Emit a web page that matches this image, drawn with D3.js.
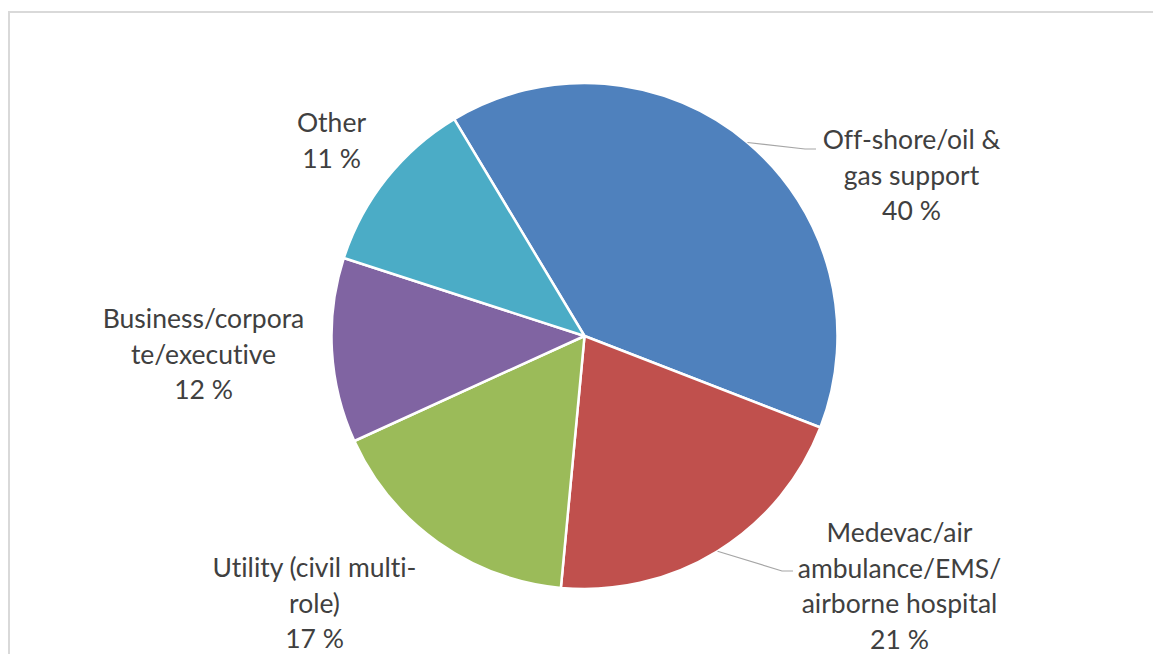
<!DOCTYPE html>
<html>
<head>
<meta charset="utf-8">
<script src="https://cdn.jsdelivr.net/npm/d3@7"></script>
<style>
  body { margin: 0; background: #fff; }
  svg { display: block; }
  text { font-family: Lato, "Liberation Sans", sans-serif; fill: #404040; font-variant-ligatures: none; }
</style>
</head>
<body>
<div id="chart"></div>
<script>
// segment names (lines as shown in the chart)
const categories = [
    ["Off-shore/oil &", "gas support"],
    ["Medevac/air", "ambulance/EMS/", "airborne hospital"],
    ["Utility (civil multi-", "role)"],
    ["Business/corpora", "te/executive"],
    ["Other"]
];
// share of fleet, percent
const shares = [39.5, 20.6, 16.7, 11.8, 11.4];
const colors = ["#4F81BD", "#C0504D", "#9BBB59", "#8064A2", "#4BACC6"];

// label layout (relative to pie centre)
const labelOffset = [[327, -187], [315, 206], [-270, 241], [-381, -8], [-253, -204]];
const leaderElbow = [[220.5, -187], [197.5, 235]];

const width = 1153, height = 654;
const cx = 584.5, cy = 336, radius = 253;
const lineH = 35.5;

const svg = d3.select("#chart").append("svg")
    .attr("width", width)
    .attr("height", height);

// chart frame
svg.append("rect")
    .attr("x", 9).attr("y", 12)
    .attr("width", 1200).attr("height", 700)
    .attr("fill", "none")
    .attr("stroke", "#d9d9d9")
    .attr("stroke-width", 2);

const g = svg.append("g").attr("transform", `translate(${cx},${cy})`);

const start = -31 * Math.PI / 180;
const pie = d3.pie().sort(null).startAngle(start).endAngle(start + 2 * Math.PI);
const arc = d3.arc().innerRadius(0).outerRadius(radius);
const arcs = pie(shares);

g.selectAll("path.slice")
    .data(arcs)
    .enter()
    .append("path")
    .attr("class", "slice")
    .attr("d", arc)
    .attr("fill", (d, i) => colors[i])
    .attr("stroke", "#fff")
    .attr("stroke-width", 2.5)
    .attr("stroke-linejoin", "round");

// leader lines for the two right-hand labels
leaderElbow.forEach(function(e, i) {
    let a = (arcs[i].startAngle + arcs[i].endAngle) / 2;
    let p0 = [radius * Math.sin(a), -radius * Math.cos(a)];
    g.append("polyline")
        .attr("points", [p0, e, [e[0] + 11, e[1]]].map(p => p.join(",")).join(" "))
        .attr("fill", "none")
        .attr("stroke", "#a6a6a6")
        .attr("stroke-width", 1.2);
});

// labels
arcs.forEach(function(d, i) {
    let lines = categories[i].concat([Math.round(shares[i]) + " %"]);
    let t = g.append("text")
        .attr("text-anchor", "middle")
        .attr("font-size", 26.5);
    lines.forEach(function(l, j) {
        t.append("tspan")
            .attr("x", labelOffset[i][0])
            .attr("y", labelOffset[i][1] + j * lineH)
            .text(l);
    });
});
</script>
</body>
</html>
